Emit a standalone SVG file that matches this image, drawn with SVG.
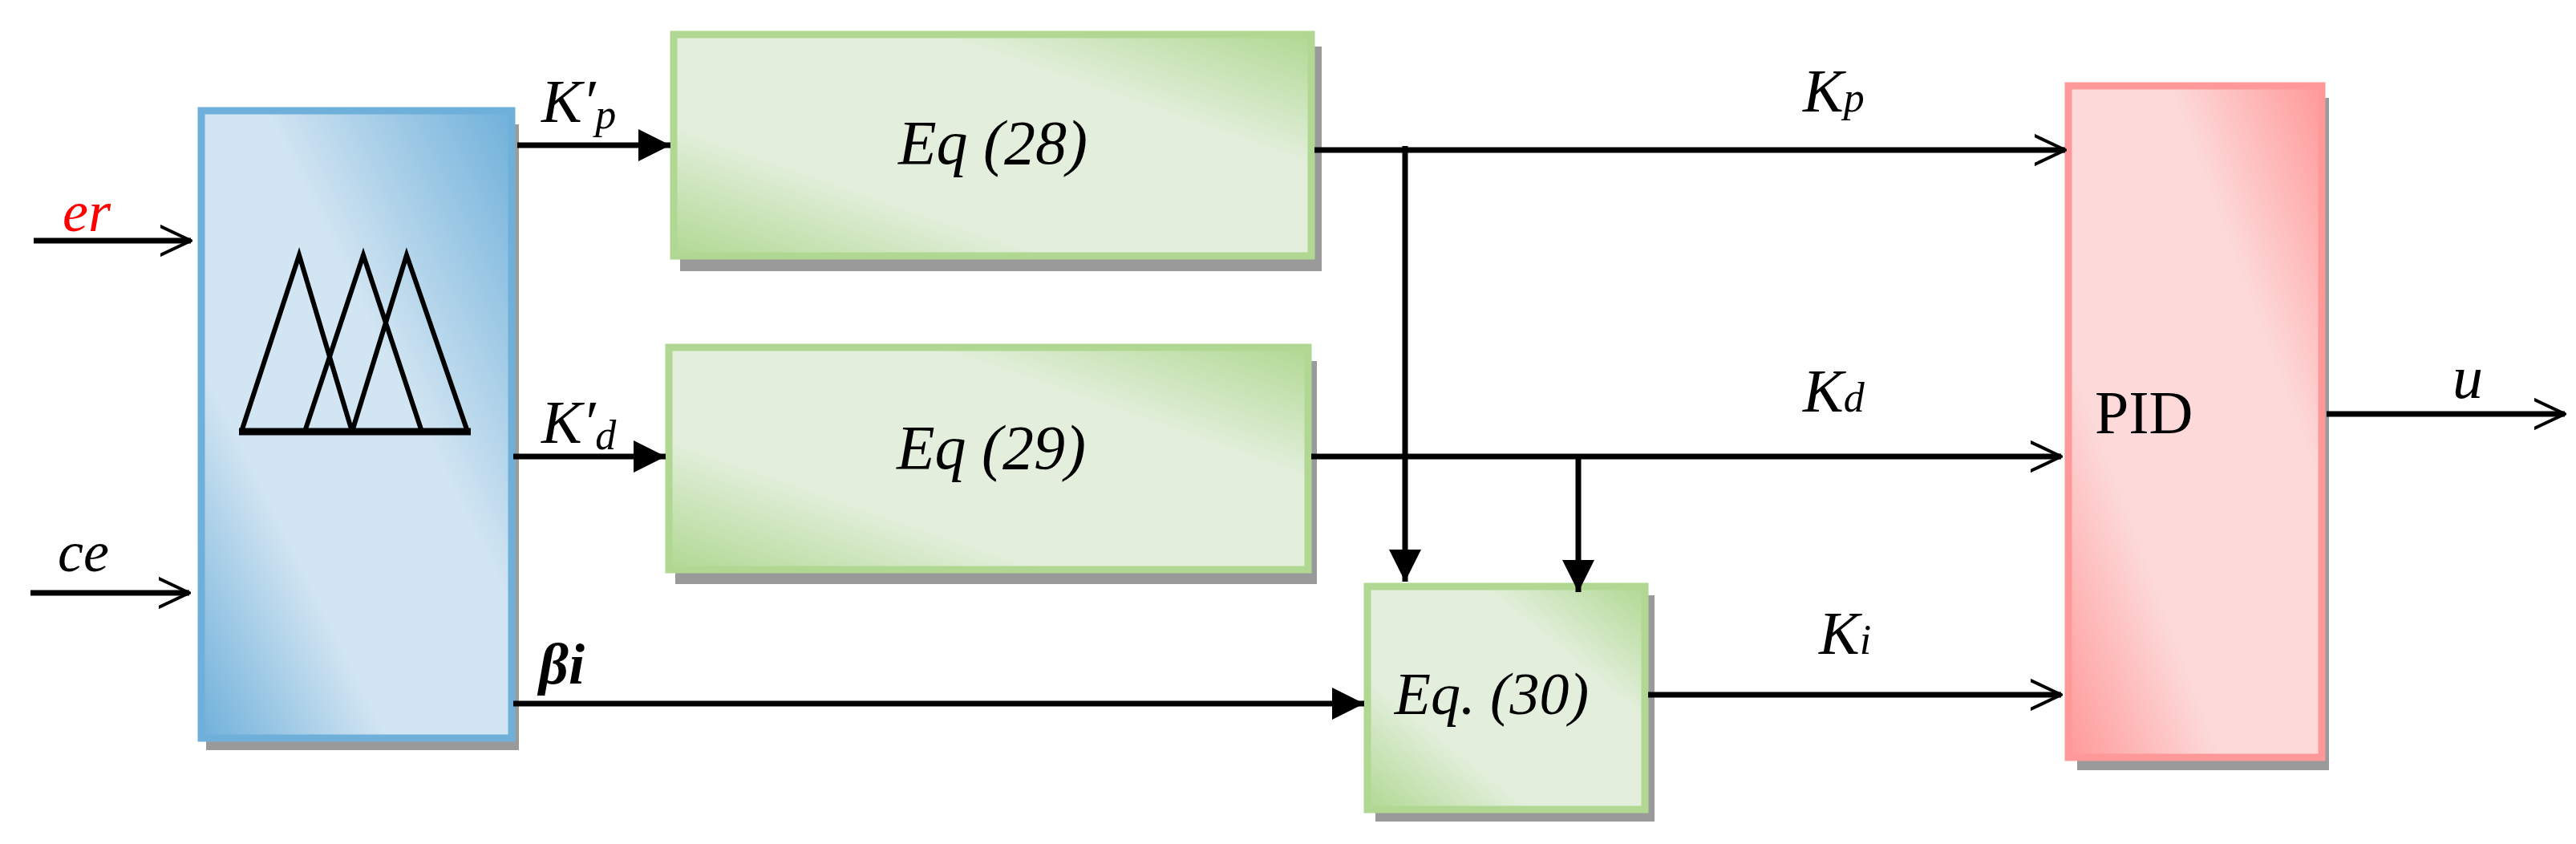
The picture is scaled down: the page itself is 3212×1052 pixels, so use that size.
<svg xmlns="http://www.w3.org/2000/svg" width="3212" height="1052" viewBox="0 0 3212 1052">
<defs>
<linearGradient id="gb" x1="0" y1="1" x2="1" y2="0"><stop offset="0" stop-color="#6fb0da"/><stop offset="0.3" stop-color="#d2e5f2"/><stop offset="0.6" stop-color="#d2e5f2"/><stop offset="1" stop-color="#6fb0da"/></linearGradient>
<linearGradient id="gg" x1="0" y1="1" x2="1" y2="0"><stop offset="0" stop-color="#b0d892"/><stop offset="0.3" stop-color="#e3efdc"/><stop offset="0.7" stop-color="#e3efdc"/><stop offset="1" stop-color="#b0d892"/></linearGradient>
<linearGradient id="gp" x1="0" y1="1" x2="1" y2="0"><stop offset="0" stop-color="#ff9999"/><stop offset="0.3" stop-color="#fdd9d9"/><stop offset="0.7" stop-color="#fdd9d9"/><stop offset="1" stop-color="#ff9999"/></linearGradient>
<marker id="fa" markerWidth="10" markerHeight="10" refX="9" refY="5" orient="auto" markerUnits="userSpaceOnUse" viewBox="0 0 10 10" ><path d="M0,0 L10,5 L0,10 z" fill="#000"/></marker>
<marker id="oa" viewBox="0 0 10 10" refX="9.5" refY="5" markerWidth="40" markerHeight="60" orient="auto" markerUnits="userSpaceOnUse"><path d="M0,0.5 L9.5,5 L0,9.5" fill="none" stroke="#000" stroke-width="1" stroke-linecap="round"/></marker>
<marker id="fb" viewBox="0 0 10 10" refX="10" refY="5" markerWidth="40" markerHeight="50" orient="auto" markerUnits="userSpaceOnUse"><path d="M0,0 L10,5 L0,10 z" fill="#000"/></marker>
</defs>
<style>
.t{font-family:"Liberation Serif",serif;font-style:italic;fill:#000}
.c{stroke:#000;stroke-width:7;fill:none}
.sh{fill:#9a9a9a}
</style>
<g id="fuzzy">
<rect class="sh" x="257" y="155" width="390" height="780"/>
<rect x="251" y="138" width="387" height="782" fill="url(#gb)" stroke="#6fb0da" stroke-width="9"/>
<g stroke="#000" stroke-width="6" fill="none">
<path d="M301,538 L373,318 L439,538"/><path d="M380,538 L453,318 L526,538"/><path d="M439,538 L507,318 L583,538"/>
<line x1="298" y1="538" x2="587" y2="538" stroke-width="9"/>
</g>
</g>
<g id="eq28">
<rect class="sh" x="848" y="58" width="800" height="280"/>
<rect x="840" y="43" width="795" height="276" fill="url(#gg)" stroke="#b0d892" stroke-width="9"/>
<text class="t" x="1238" y="204" font-size="78" text-anchor="middle">Eq (28)</text>
</g>
<g id="eq29">
<rect class="sh" x="842" y="450" width="800" height="278"/>
<rect x="834" y="433" width="797" height="277" fill="url(#gg)" stroke="#b0d892" stroke-width="9"/>
<text class="t" x="1236" y="584" font-size="78" text-anchor="middle">Eq (29)</text>
</g>
<g id="eq30">
<rect class="sh" x="1715" y="742" width="348" height="282"/>
<rect x="1705" y="731" width="346" height="278" fill="url(#gg)" stroke="#b0d892" stroke-width="9"/>
<text class="t" x="1860" y="890" font-size="74" text-anchor="middle">Eq. (30)</text>
</g>
<g id="pid">
<rect class="sh" x="2590" y="122" width="314" height="838"/>
<rect x="2579" y="107" width="316" height="837" fill="url(#gp)" stroke="#ff9999" stroke-width="9"/>
<text x="2612" y="540" font-family="Liberation Serif,serif" font-size="76" fill="#000">PID</text>
</g>
<g id="connectors">
<line class="c" x1="42" y1="300" x2="238" y2="300" marker-end="url(#oa)"/>
<line class="c" x1="38" y1="739" x2="236" y2="739" marker-end="url(#oa)"/>
<line class="c" x1="645" y1="181" x2="836" y2="181" marker-end="url(#fb)"/>
<line class="c" x1="640" y1="569" x2="830" y2="569" marker-end="url(#fb)"/>
<line class="c" x1="640" y1="877" x2="1701" y2="877" marker-end="url(#fb)"/>
<line class="c" x1="1639" y1="187" x2="2575" y2="187" marker-end="url(#oa)"/>
<line class="c" x1="1635" y1="569" x2="2570" y2="569" marker-end="url(#oa)"/>
<line class="c" x1="2055" y1="866" x2="2570" y2="866" marker-end="url(#oa)"/>
<line class="c" x1="1752" y1="182" x2="1752" y2="725" marker-end="url(#fb)"/>
<line class="c" x1="1968" y1="569" x2="1968" y2="738" marker-end="url(#fb)"/>
<line class="c" x1="2901" y1="516" x2="3198" y2="516" marker-end="url(#oa)"/>
</g>
<g id="labels">
<text class="t" x="78" y="288" font-size="72" fill="#ff0000" style="fill:#ff0000">er</text>
<text class="t" x="72" y="712" font-size="72">ce</text>
<text class="t" x="675" y="152" font-size="76">K′<tspan font-size="52" dy="8">p</tspan></text>
<text class="t" x="675" y="552" font-size="76">K′<tspan font-size="52" dy="8">d</tspan></text>
<text class="t" x="672" y="852" font-size="72" font-weight="bold">βi</text>
<text class="t" x="2248" y="139" font-size="76">K<tspan font-size="52">p</tspan></text>
<text class="t" x="2248" y="513" font-size="76">K<tspan font-size="52">d</tspan></text>
<text class="t" x="2268" y="815" font-size="76">K<tspan font-size="52">i</tspan></text>
<text class="t" x="3058" y="496" font-size="76">u</text>
</g>
</svg>
